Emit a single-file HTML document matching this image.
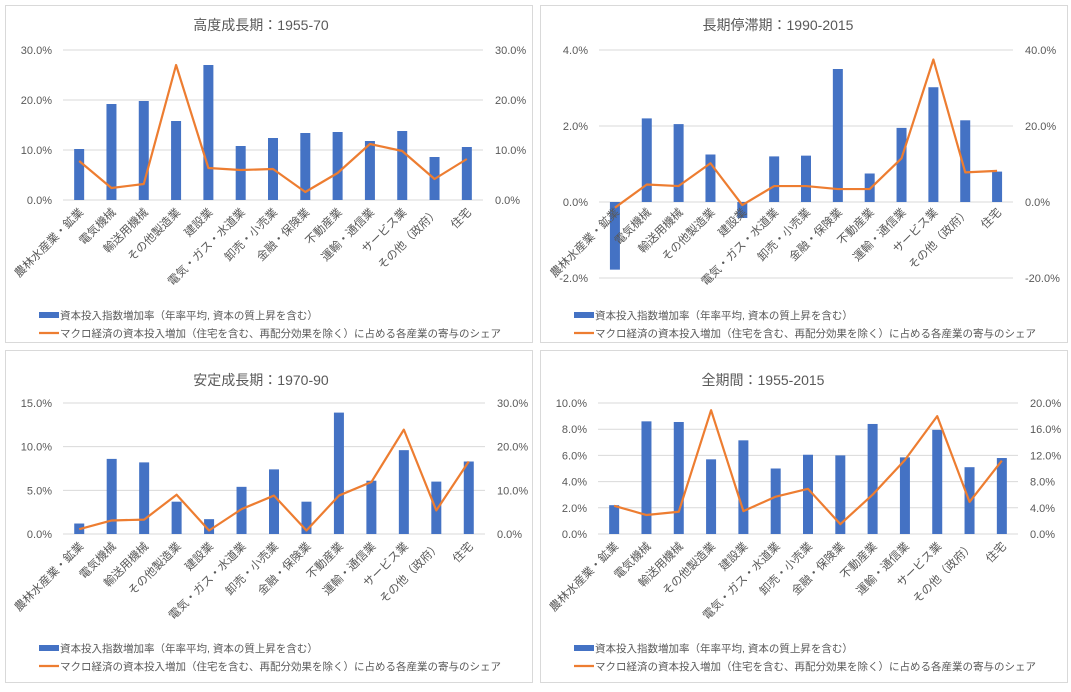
<!DOCTYPE html>
<html><head><meta charset="utf-8"><style>
body{margin:0;background:#fff;width:1071px;height:687px;overflow:hidden}
svg{font-family:"Liberation Sans","Noto Sans CJK JP",sans-serif}
</style></head><body>
<svg id="s" width="1071" height="687"></svg>
<script>
const categories=["農林水産業・鉱業","電気機械","輸送用機械","その他製造業","建設業","電気・ガス・水道業","卸売・小売業","金融・保険業","不動産業","運輸・通信業","サービス業","その他（政府）","住宅"];
const bars1=[10.2,19.2,19.8,15.8,27.0,10.8,12.4,13.4,13.6,11.8,13.8,8.6,10.6];
const line1=[7.8,2.4,3.2,27.0,6.4,6.0,6.2,1.6,5.4,11.2,9.8,4.2,8.2];
const bars2=[-1.78,2.2,2.05,1.25,-0.42,1.2,1.22,3.5,0.75,1.95,3.02,2.15,0.8];
const line2=[-1.5,4.6,4.2,10.2,-0.8,4.2,4.2,3.4,3.4,11.5,37.5,7.8,8.2];
const bars3=[1.2,8.6,8.2,3.7,1.7,5.4,7.4,3.7,13.9,6.1,9.6,6.0,8.3];
const line3=[1.1,3.1,3.3,9.0,0.8,5.7,8.8,0.8,8.8,11.9,23.9,5.4,16.6];
const bars4=[2.2,8.6,8.55,5.7,7.15,5.0,6.05,6.0,8.4,5.85,7.95,5.1,5.8];
const line4=[4.3,2.9,3.4,18.9,3.5,5.7,6.9,1.5,6.0,11.3,18.0,4.9,11.2];
const ticksL1=[0,10,20,30],ticksR1=[0,10,20,30];
const ticksL2=[-2,0,2,4],ticksR2=[-20,0,20,40];
const ticksL3=[0,5,10,15],ticksR3=[0,10,20,30];
const ticksL4=[0,2,4,6,8,10],ticksR4=[0,4,8,12,16,20];
const titles=["高度成長期：1955-70","長期停滞期：1990-2015","安定成長期：1970-90","全期間：1955-2015"];
const legendBar="資本投入指数増加率（年率平均, 資本の質上昇を含む）";
const legendLine="マクロ経済の資本投入増加（住宅を含む、再配分効果を除く）に占める各産業の寄与のシェア";
const NS="http://www.w3.org/2000/svg";
const svg=document.getElementById('s');
function mk(t,a,p){const e=document.createElementNS(NS,t);for(const k in a)e.setAttribute(k,a[k]);(p||svg).appendChild(e);return e;}
function panel(o){
  const g=mk('g',{});
  
  
  const box=mk('rect',{x:o.bx+0.5,y:o.by+0.5,width:o.bw,height:o.bh,fill:'#fff',stroke:'#d9d9d9'},g);
  
  
  const t=mk('text',{x:o.tx,y:o.ty,'text-anchor':'middle','font-size':14,fill:'#595959'},g);t.textContent=o.title;
  
  
  const L=o.ticksL,R=o.ticksR;
  const yL=v=>o.yTop+(L[L.length-1]-v)/(L[L.length-1]-L[0])*(o.yBot-o.yTop);
  const yR=v=>o.yTop+(R[R.length-1]-v)/(R[R.length-1]-R[0])*(o.yBot-o.yTop);
  const step=(o.x1-o.x0)/categories.length;
  const xC=i=>o.x0+step*(i+0.5);
  L.forEach(v=>{
    const y=yL(v);
    const gl=mk('line',{x1:o.x0,x2:o.x1,y1:y,y2:y,stroke:'#d9d9d9'},g);
    
    
    const tl=mk('text',{x:o.x0-11,y:y+4,'text-anchor':'end','font-size':11,fill:'#595959'},g);tl.textContent=v.toFixed(1)+'%';
    
    
  });
  R.forEach(v=>{
    const tr=mk('text',{x:o.x1+12,y:yR(v)+4,'font-size':11,fill:'#595959'},g);tr.textContent=v.toFixed(1)+'%';
    
    
  });
  const y0=yL(0);
  o.bars.forEach((v,i)=>{
    const y=yL(v);
    const b=mk('rect',{x:xC(i)-5,y:Math.min(y,y0),width:10,height:Math.abs(y0-y),fill:'#4472c4'},g);
    
    
  });
  const pl=mk('polyline',{points:o.line.map((v,i)=>xC(i)+','+yR(v)).join(' '),fill:'none',stroke:'#ed7d31','stroke-width':2.2,'stroke-linejoin':'round'},g);
  
  
  const ly=o.labY;
  categories.forEach((c,i)=>{
    const ax=xC(i)+5,ay=ly;
    const ct=mk('text',{x:ax,y:ay,'text-anchor':'end','font-size':11.5,fill:'#595959',transform:`rotate(-45 ${ax} ${ay})`},g);ct.textContent=c;
    
    
  });
  const sw=mk('rect',{x:o.bx+34,y:o.legY-3,width:20,height:6,fill:'#4472c4'},g);
  
  
  const l1=mk('text',{x:o.bx+55,y:o.legY+4,'font-size':10.5,fill:'#595959'},g);l1.textContent=legendBar;
  
  
  const ls=mk('line',{x1:o.bx+34,x2:o.bx+54,y1:o.legY+18,y2:o.legY+18,stroke:'#ed7d31','stroke-width':2.2},g);
  
  
  const l2=mk('text',{x:o.bx+55,y:o.legY+22,'font-size':10.5,fill:'#595959'},g);l2.textContent=legendLine;
  
  
}
panel({name:'chart-1955-70',bx:5,by:5,bw:527,bh:337,tx:261,ty:30,title:titles[0],x0:63,x1:483,yTop:50,yBot:200,ticksL:ticksL1,ticksR:ticksR1,bars:bars1,line:line1,labY:213,legY:315});
panel({name:'chart-1990-2015',bx:540,by:5,bw:527,bh:337,tx:778,ty:30,title:titles[1],x0:599,x1:1013,yTop:50,yBot:278,ticksL:ticksL2,ticksR:ticksR2,bars:bars2,line:line2,labY:213,legY:315});
panel({name:'chart-1970-90',bx:5,by:350,bw:527,bh:332,tx:261,ty:385,title:titles[2],x0:63,x1:485,yTop:403,yBot:534,ticksL:ticksL3,ticksR:ticksR3,bars:bars3,line:line3,labY:547,legY:648});
panel({name:'chart-1955-2015',bx:540,by:350,bw:527,bh:332,tx:763,ty:385,title:titles[3],x0:598,x1:1018,yTop:403,yBot:534,ticksL:ticksL4,ticksR:ticksR4,bars:bars4,line:line4,labY:547,legY:648});
</script>
</body></html>
